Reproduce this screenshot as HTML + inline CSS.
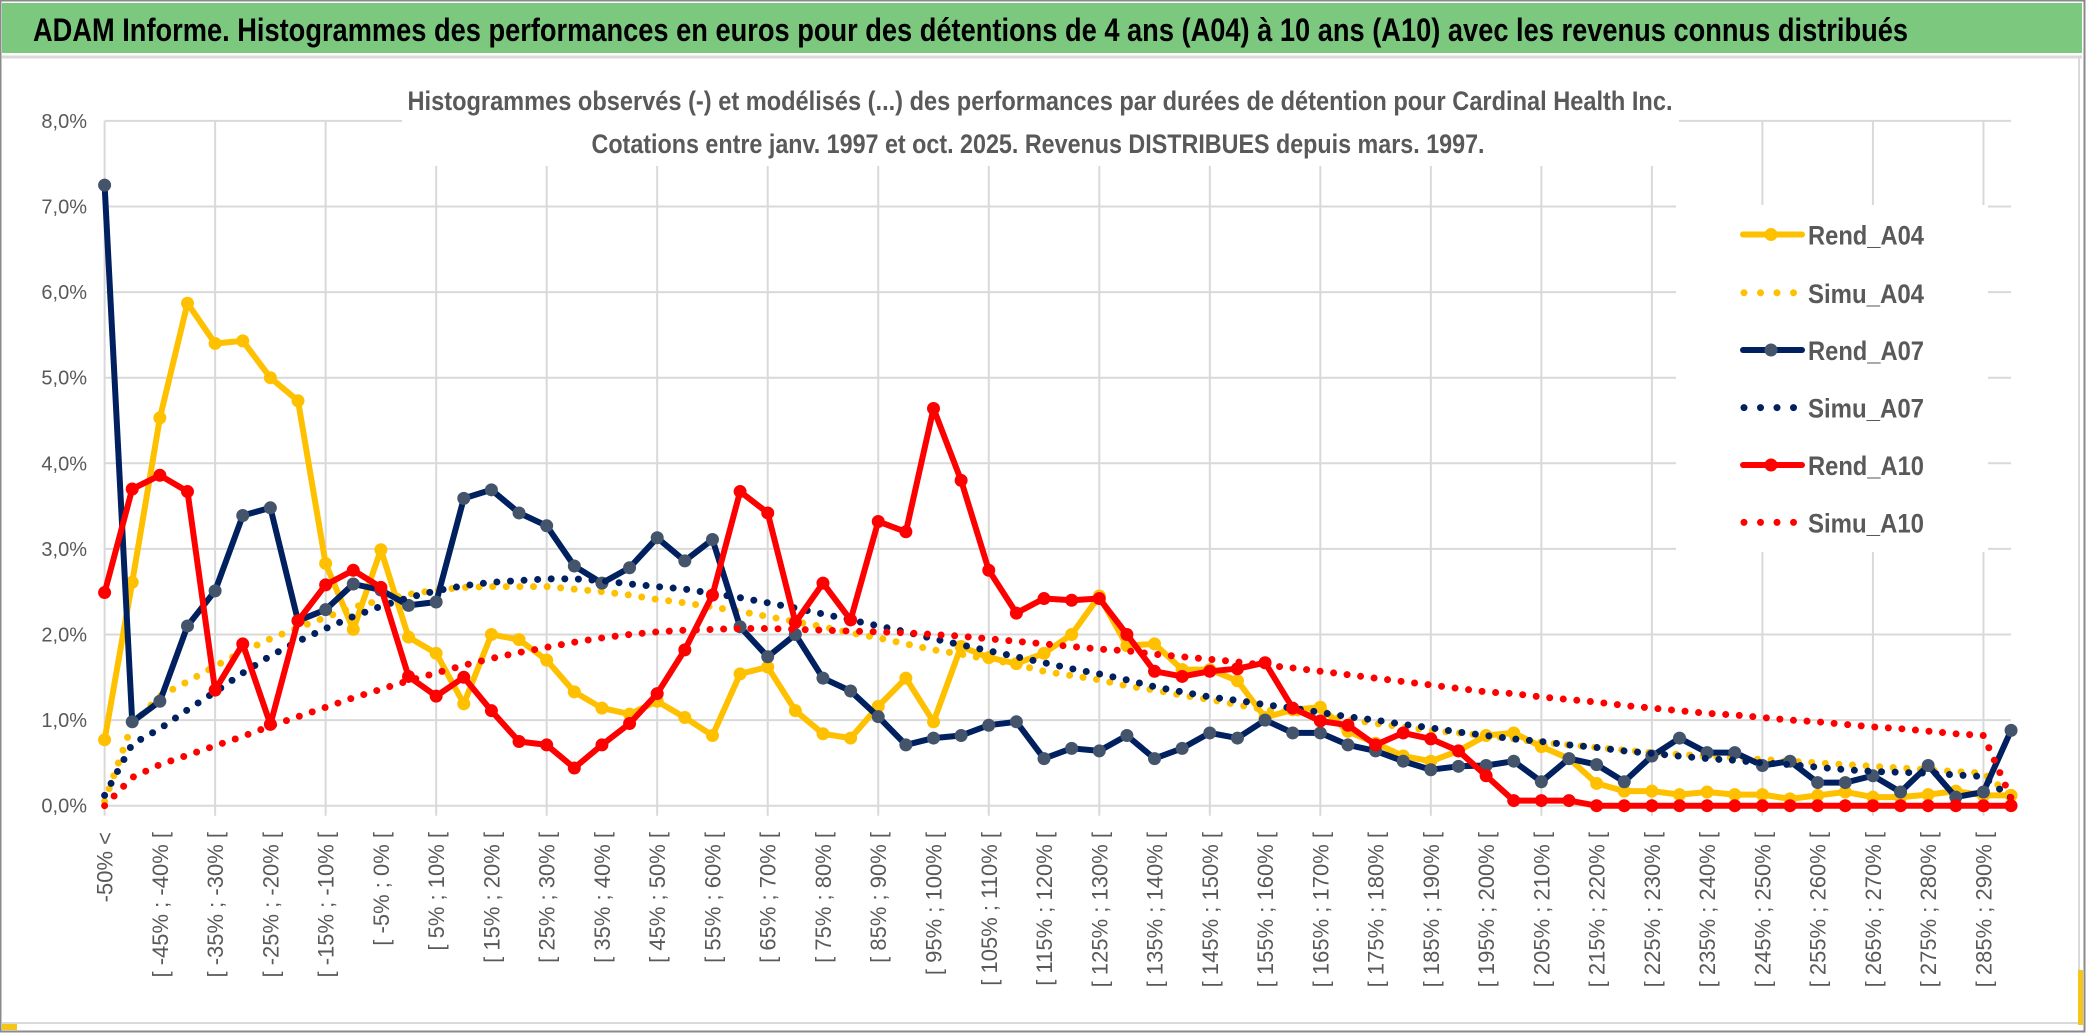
<!DOCTYPE html>
<html><head><meta charset="utf-8"><style>
html,body{margin:0;padding:0;background:#fff;}
svg{display:block;}
text{font-family:"Liberation Sans",sans-serif;}
</style></head><body>
<svg id="chart" width="2086" height="1033" viewBox="0 0 2086 1033" xmlns="http://www.w3.org/2000/svg">
<rect x="0.5" y="0.5" width="2084" height="1031" fill="#fff" stroke="#8a8a8a" stroke-width="2"/>
<rect x="2" y="3" width="2080" height="50" fill="#7dc87f"/>
<line x1="2" y1="57" x2="2082" y2="57" stroke="#d9d9d9" stroke-width="3"/>
<text x="33" y="41" font-size="32" font-weight="bold" fill="#000" textLength="1875" lengthAdjust="spacingAndGlyphs" style="font-family:'Liberation Sans Narrow','Liberation Sans',sans-serif">ADAM Informe. Histogrammes des performances en euros pour des détentions de 4 ans (A04) à 10 ans (A10) avec les revenus connus distribués</text>
<line x1="2" y1="1023" x2="2082" y2="1023" stroke="#d9d9d9" stroke-width="2"/>
<line x1="2079" y1="57" x2="2079" y2="1023" stroke="#d9d9d9" stroke-width="2"/>
<rect x="2" y="1024" width="15" height="6" fill="#f5c518"/>
<rect x="2078" y="970" width="5" height="55" fill="#f5c518"/>
<g id="grid"></g>
<rect x="402" y="112" width="1277" height="54" fill="#fff"/>
<text x="1040" y="110" font-size="27" font-weight="bold" fill="#595959" text-anchor="middle" textLength="1265" lengthAdjust="spacingAndGlyphs" style="font-family:'Liberation Sans Narrow','Liberation Sans',sans-serif">Histogrammes observés (-) et modélisés (...) des performances par durées de détention pour Cardinal Health Inc.</text>
<text x="1038" y="153" font-size="27" font-weight="bold" fill="#595959" text-anchor="middle" textLength="893" lengthAdjust="spacingAndGlyphs" style="font-family:'Liberation Sans Narrow','Liberation Sans',sans-serif">Cotations entre janv. 1997 et oct. 2025. Revenus DISTRIBUES depuis mars. 1997.</text>
<g id="yaxis"></g>
<g id="xaxis"></g>
<g id="series"></g>
<g id="legend"></g>
</svg>
<script>
const categories = ["-50% <","[ -50% ; -45% [","[ -45% ; -40% [","[ -40% ; -35% [","[ -35% ; -30% [","[ -30% ; -25% [","[ -25% ; -20% [","[ -20% ; -15% [","[ -15% ; -10% [","[ -10% ; -5% [","[ -5% ; 0% [","[ 0% ; 5% [","[ 5% ; 10% [","[ 10% ; 15% [","[ 15% ; 20% [","[ 20% ; 25% [","[ 25% ; 30% [","[ 30% ; 35% [","[ 35% ; 40% [","[ 40% ; 45% [","[ 45% ; 50% [","[ 50% ; 55% [","[ 55% ; 60% [","[ 60% ; 65% [","[ 65% ; 70% [","[ 70% ; 75% [","[ 75% ; 80% [","[ 80% ; 85% [","[ 85% ; 90% [","[ 90% ; 95% [","[ 95% ; 100% [","[ 100% ; 105% [","[ 105% ; 110% [","[ 110% ; 115% [","[ 115% ; 120% [","[ 120% ; 125% [","[ 125% ; 130% [","[ 130% ; 135% [","[ 135% ; 140% [","[ 140% ; 145% [","[ 145% ; 150% [","[ 150% ; 155% [","[ 155% ; 160% [","[ 160% ; 165% [","[ 165% ; 170% [","[ 170% ; 175% [","[ 175% ; 180% [","[ 180% ; 185% [","[ 185% ; 190% [","[ 190% ; 195% [","[ 195% ; 200% [","[ 200% ; 205% [","[ 205% ; 210% [","[ 210% ; 215% [","[ 215% ; 220% [","[ 220% ; 225% [","[ 225% ; 230% [","[ 230% ; 235% [","[ 235% ; 240% [","[ 240% ; 245% [","[ 245% ; 250% [","[ 250% ; 255% [","[ 255% ; 260% [","[ 260% ; 265% [","[ 265% ; 270% [","[ 270% ; 275% [","[ 275% ; 280% [","[ 280% ; 285% [","[ 285% ; 290% [","[ 290% ; 300% ["];
const yTicks = [0,1,2,3,4,5,6,7,8];
const yTickLabels = ["0,0%","1,0%","2,0%","3,0%","4,0%","5,0%","6,0%","7,0%","8,0%"];
const rendA04 = [0.77,2.61,4.53,5.87,5.40,5.43,5.00,4.73,2.83,2.06,2.99,1.97,1.78,1.19,2.00,1.94,1.70,1.33,1.14,1.07,1.22,1.03,0.82,1.54,1.62,1.11,0.84,0.79,1.16,1.49,0.98,1.86,1.73,1.66,1.78,2.00,2.45,1.87,1.89,1.59,1.59,1.46,1.03,1.12,1.15,0.87,0.73,0.58,0.52,0.64,0.82,0.85,0.69,0.55,0.26,0.17,0.17,0.13,0.16,0.13,0.13,0.08,0.12,0.16,0.10,0.10,0.13,0.17,0.12,0.12];
const simuA04 = [0.05,0.95,1.28,1.45,1.63,1.80,1.95,2.08,2.20,2.32,2.40,2.47,2.52,2.55,2.56,2.56,2.56,2.53,2.50,2.46,2.41,2.37,2.32,2.27,2.21,2.15,2.09,2.02,1.96,1.89,1.82,1.77,1.71,1.65,1.57,1.52,1.47,1.40,1.35,1.29,1.24,1.18,1.12,1.09,1.06,1.01,0.96,0.92,0.88,0.85,0.82,0.78,0.74,0.71,0.68,0.65,0.62,0.60,0.58,0.56,0.54,0.52,0.50,0.48,0.46,0.44,0.42,0.40,0.38,0.12];
const rendA07 = [7.25,0.98,1.22,2.10,2.51,3.39,3.48,2.16,2.29,2.59,2.52,2.34,2.38,3.59,3.69,3.42,3.27,2.80,2.60,2.78,3.13,2.86,3.11,2.09,1.74,2.00,1.49,1.34,1.04,0.71,0.79,0.82,0.94,0.98,0.55,0.67,0.64,0.82,0.55,0.67,0.85,0.79,1.00,0.85,0.85,0.71,0.64,0.52,0.42,0.46,0.47,0.52,0.28,0.55,0.48,0.28,0.58,0.79,0.62,0.62,0.47,0.52,0.27,0.27,0.35,0.16,0.47,0.10,0.16,0.88];
const simuA07 = [0.12,0.72,0.90,1.12,1.33,1.55,1.75,1.92,2.07,2.21,2.33,2.43,2.51,2.57,2.61,2.63,2.65,2.65,2.63,2.59,2.56,2.53,2.48,2.43,2.37,2.31,2.24,2.17,2.10,2.03,1.95,1.88,1.81,1.74,1.67,1.60,1.54,1.47,1.39,1.33,1.27,1.23,1.18,1.14,1.09,1.04,1.00,0.95,0.91,0.86,0.82,0.78,0.75,0.71,0.68,0.64,0.61,0.58,0.55,0.53,0.50,0.48,0.45,0.42,0.40,0.39,0.38,0.36,0.34,0.09];
const rendA10 = [2.49,3.70,3.86,3.67,1.35,1.89,0.95,2.16,2.58,2.75,2.55,1.51,1.28,1.50,1.11,0.75,0.71,0.44,0.71,0.96,1.31,1.82,2.46,3.67,3.42,2.14,2.60,2.17,3.32,3.20,4.64,3.80,2.75,2.25,2.42,2.40,2.42,2.00,1.57,1.51,1.57,1.60,1.67,1.14,0.99,0.94,0.71,0.85,0.78,0.64,0.35,0.06,0.06,0.06,0,0,0,0,0,0,0,0,0,0,0,0,0,0,0,0];
const simuA10 = [0.00,0.33,0.48,0.59,0.70,0.81,0.93,1.04,1.15,1.26,1.36,1.46,1.55,1.64,1.72,1.79,1.85,1.91,1.96,2.00,2.03,2.05,2.06,2.07,2.07,2.06,2.05,2.04,2.03,2.02,2.00,1.98,1.95,1.92,1.89,1.86,1.83,1.81,1.77,1.74,1.71,1.68,1.64,1.61,1.57,1.53,1.49,1.45,1.41,1.37,1.33,1.31,1.27,1.24,1.21,1.17,1.14,1.11,1.08,1.06,1.03,1.00,0.98,0.95,0.92,0.90,0.87,0.84,0.82,0.09];
const seriesNames = ["Rend_A04","Simu_A04","Rend_A07","Simu_A07","Rend_A10","Simu_A10"];

const NS="http://www.w3.org/2000/svg";
const X0=104.6, XSTEP=27.63, Y0=805.7, YUNIT=85.6;
function xs(i){return X0+XSTEP*i;}
function ys(v){return Y0-YUNIT*v;}
function mk(tag,attrs,parent){const e=document.createElementNS(NS,tag);for(const k in attrs)e.setAttribute(k,attrs[k]);parent.appendChild(e);return e;}

const grid=document.getElementById('grid');
const xEnd=xs(categories.length-1);
yTicks.forEach((t,i)=>{
  const l=mk('line',{x1:X0,x2:xEnd,y1:ys(t),y2:ys(t),stroke:'#d9d9d9','stroke-width':2},grid);
  
  
});
for(let i=0;i<categories.length;i+=4){
  const l=mk('line',{x1:xs(i),x2:xs(i),y1:ys(8),y2:ys(0)+10,stroke:'#d9d9d9','stroke-width':2},grid);
  
  
}

const yaxis=document.getElementById('yaxis');
yTicks.forEach((t,i)=>{
  const tx=mk('text',{x:87,y:ys(t)+7,'font-size':20,fill:'#595959','text-anchor':'end'},yaxis);
  tx.textContent=yTickLabels[i];
  
  
});

const xaxis=document.getElementById('xaxis');
categories.forEach((c,i)=>{
  if(i%2!==0)return;
  const x=xs(i)+8, y=832;
  const tx=mk('text',{x:0,y:0,transform:`translate(${x},${y}) rotate(-90)`,'font-size':22,fill:'#595959','text-anchor':'end'},xaxis);
  tx.textContent=c;
  
  
});

const seriesG=document.getElementById('series');
function pathD(arr){return arr.map((v,i)=>(i?'L':'M')+xs(i).toFixed(1)+','+ys(v).toFixed(1)).join(' ');}
function drawRend(arr,color,mcolor,name){
  const g=mk('g',{},seriesG);
  
  
  const p=mk('path',{d:pathD(arr),fill:'none',stroke:color,'stroke-width':6,'stroke-linejoin':'round','stroke-linecap':'round'},g);
  
  
  arr.forEach((v,i)=>{
    const c=mk('circle',{cx:xs(i),cy:ys(v),r:6.5,fill:mcolor},g);
    
    
  });
}
function drawSimu(arr,color,name){
  const p=mk('path',{d:pathD(arr),fill:'none',stroke:color,'stroke-width':7,'stroke-linecap':'round','stroke-dasharray':'0 13.6'},seriesG);
  
  
}
drawRend(rendA04,'#ffc000','#ffc000','rend-a04');
drawSimu(simuA04,'#ffc000','simu-a04');
drawRend(rendA07,'#002060','#44546a','rend-a07');
drawSimu(simuA07,'#002060','simu-a07');
drawRend(rendA10,'#ff0000','#ff0000','rend-a10');
drawSimu(simuA10,'#ff0000','simu-a10');

const lg=document.getElementById('legend');
mk('rect',{x:1676,y:205,width:312,height:347,fill:'#fff'},lg);
const legY=[234.5,292.8,350,407.6,465,522.4];
const legColors=['#ffc000','#ffc000','#002060','#002060','#ff0000','#ff0000'];
const legMarker=['#ffc000',null,'#44546a',null,'#ff0000',null];
seriesNames.forEach((n,i)=>{
  const y=legY[i];
  if(legMarker[i]){
    const l=mk('line',{x1:1743,x2:1802,y1:y,y2:y,stroke:legColors[i],'stroke-width':6,'stroke-linecap':'round'},lg);
    
    
    const c=mk('circle',{cx:1771,cy:y,r:6.5,fill:legMarker[i]},lg);
    
    
  } else {
    const l=mk('line',{x1:1744,x2:1802,y1:y,y2:y,stroke:legColors[i],'stroke-width':7,'stroke-linecap':'round','stroke-dasharray':'0 16.5'},lg);
    
    
  }
  const t=mk('text',{x:1808,y:y+10,'font-size':27,'font-weight':'bold',fill:'#595959',textLength:116,lengthAdjust:'spacingAndGlyphs'},lg);
  t.textContent=n;
  
  
});
</script>
</body></html>
